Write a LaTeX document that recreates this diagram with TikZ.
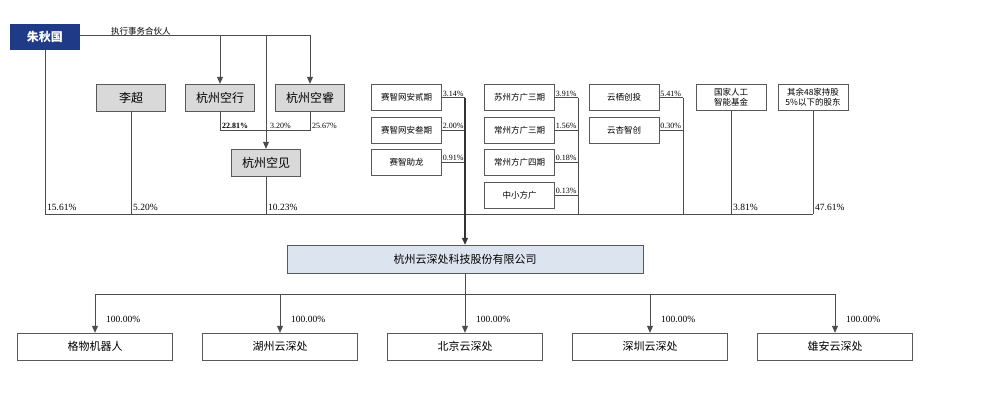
\documentclass[tikz,border=0pt]{standalone}
\usepackage{fontspec}
\setmainfont{Liberation Serif}
\newfontfamily\cjk{Noto Sans CJK SC}
\usetikzlibrary{positioning,arrows.meta}
\definecolor{navy}{HTML}{1F3A86}
\definecolor{coblue}{HTML}{DCE4EF}
\begin{document}
\begin{tikzpicture}[x=1pt,y=-1pt,
  gbox/.style={draw=gray!70!black,fill=gray!30,minimum width=69pt,minimum height=27pt,inner sep=0pt,font=\cjk\fontsize{12}{12}\selectfont},
  wbox/.style={draw=gray!70!black,fill=white,minimum width=70pt,minimum height=26pt,inner sep=0pt,font=\cjk\fontsize{8.5}{10}\selectfont,align=center},
  bbox/.style={draw=gray!70!black,fill=white,minimum width=155pt,minimum height=27pt,inner sep=0pt,font=\cjk\fontsize{11}{11}\selectfont},
  ln/.style={draw=gray!60!black,line width=0.8pt},
  arr/.style={ln,-{Triangle[length=7pt,width=6pt]}},
  pct/.style={font=\fontsize{8}{8}\selectfont,inner sep=1pt},
  bpct/.style={font=\fontsize{9.5}{9.5}\selectfont,inner sep=1pt}]
\useasboundingbox (0,0) rectangle (988,420);
% top holders
\node[draw=navy,fill=navy,text=white,minimum width=69pt,minimum height=25pt,inner sep=0pt,font=\cjk\bfseries\fontsize{12}{12}\selectfont] (zhu) at (45,36.5) {朱秋国};
\node[gbox] (li) at (131,97.5) {李超};
\node[gbox] (kx) at (220,97.5) {杭州空行};
\node[gbox] (kr) at (310,97.5) {杭州空睿};
\node[gbox] (kj) at (266,162.5) {杭州空见};
\coordinate (pt) at (310,35);
\draw[ln] (zhu.east |- 0,35) -- (pt);
\node[font=\cjk\fontsize{8.5}{8.5}\selectfont,anchor=south west,inner sep=1pt] at (110,36) {执行事务合伙人};
\draw[arr] (220,35) -- (kx.north);
\draw[arr] (pt) -- (kr.north);
\draw[arr] (266,35) -- (kj.north);
\draw[ln] (kx.south) |- (310,130) -- (kr.south);
\node[pct,anchor=south west] at (221,130) {\textbf{22.81\%}};
\node[pct,anchor=south west] at (269,130) {3.20\%};
\node[pct,anchor=south west] at (311,130) {25.67\%};
% right groups
\node[wbox] (s1) at (406.5,97.5) {赛智网安贰期};
\node[wbox] (s2) at (406.5,130) {赛智网安叁期};
\node[wbox] (s3) at (406.5,162) {赛智助龙};
\node[wbox] (f1) at (519.5,97.5) {苏州方广三期};
\node[wbox] (f2) at (519.5,130) {常州方广三期};
\node[wbox] (f3) at (519.5,162) {常州方广四期};
\node[wbox] (f4) at (519.5,195) {中小方广};
\node[wbox] (y1) at (624,97.5) {云栖创投};
\node[wbox] (y2) at (624,130) {云杏智创};
\node[wbox] (gj) at (731,97.5) {国家人工\\智能基金};
\node[wbox] (qy) at (813,97.5) {其余48家持股\\5\%以下的股东};
\foreach \n/\p in {s1/3.14,s2/2.00,s3/0.91}{
  \draw[ln] (\n.east) -- (465,0 |- \n.east);
  \node[pct,anchor=south west] at (\n.east) {\p\%};}
\foreach \n/\p in {f1/3.91,f2/1.56,f3/0.18,f4/0.13}{
  \draw[ln] (\n.east) -- (578,0 |- \n.east);
  \node[pct,anchor=south west] at (\n.east) {\p\%};}
\foreach \n/\p in {y1/5.41,y2/0.30}{
  \draw[ln] (\n.east) -- (683,0 |- \n.east);
  \node[pct,anchor=south west] at (\n.east) {\p\%};}
\draw[ln] (578,97.5) -- (578,214);
\draw[ln] (683,97.5) -- (683,214);
% collecting line
\draw[ln] (zhu.south) -- (45,214) -- (813,214);
\draw[ln] (li.south) -- (131,214);
\draw[ln] (kj.south) -- (266,214);
\draw[ln] (gj.south) -- (731,214);
\draw[ln] (qy.south) -- (813,214);
\node[bpct,anchor=south west] at (46,212) {15.61\%};
\node[bpct,anchor=south west] at (132,212) {5.20\%};
\node[bpct,anchor=south west] at (267,212) {10.23\%};
\node[bpct,anchor=south west] at (732,212) {3.81\%};
\node[bpct,anchor=south west] at (814,212) {47.61\%};
% company
\node[draw=gray!70!black,fill=coblue,minimum width=356pt,minimum height=28pt,inner sep=0pt,font=\cjk\fontsize{11}{11}\selectfont] (co) at (465,259) {杭州云深处科技股份有限公司};
\draw[arr,line width=1.2pt,draw=black!80] (465,97.5) -- (co.north);
% subsidiaries
\node[bbox] (c1) at (95,346.5) {格物机器人};
\node[bbox] (c2) at (280,346.5) {湖州云深处};
\node[bbox] (c3) at (465,346.5) {北京云深处};
\node[bbox] (c4) at (650,346.5) {深圳云深处};
\node[bbox] (c5) at (835,346.5) {雄安云深处};
\draw[ln] (co.south) -- (465,294);
\draw[ln] (95,294) -- (835,294);
\foreach \n in {c1,c2,c3,c4,c5}{
  \draw[arr] (\n.north |- 0,294) -- (\n.north);
  \node[bpct,anchor=west] at ([xshift=10pt,yshift=13pt]\n.north) {100.00\%};}
\end{tikzpicture}
\end{document}
